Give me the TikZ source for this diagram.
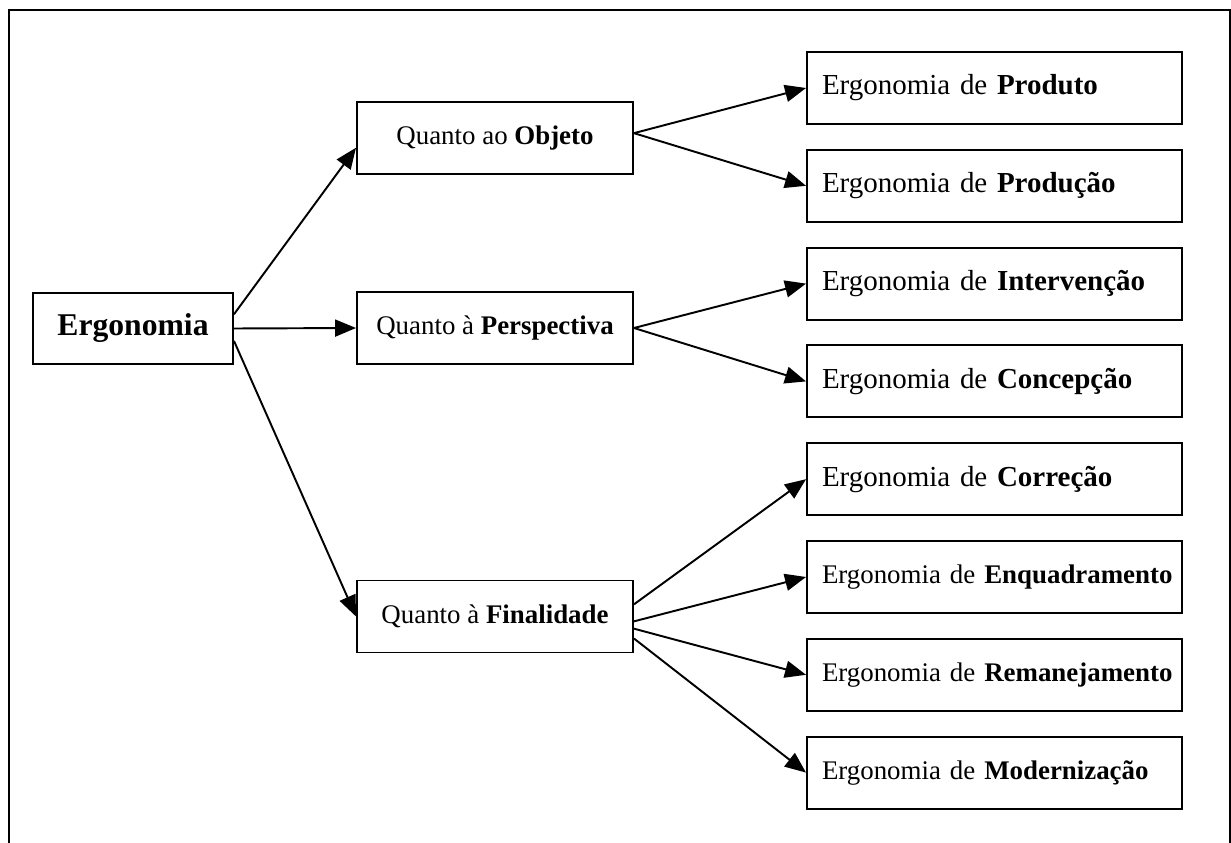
\documentclass[tikz,border=0pt]{standalone}
\usepackage{fontspec}
\setmainfont{Liberation Serif}
\usepackage{tikz}
\usetikzlibrary{arrows.meta, positioning}

\begin{document}
\begin{tikzpicture}[
  rootbox/.style={rectangle, draw, line width=1.1pt, minimum width=4.0cm,
                  minimum height=1.42cm, inner sep=0pt,
                  font=\fontsize{18}{21}\selectfont\bfseries},
  groupbox/.style={rectangle, draw, line width=1.1pt, minimum width=5.52cm,
                   minimum height=1.44cm, inner sep=0pt, align=center,
                   font=\fontsize{15.3}{18}\selectfont},
  leafbox/.style={rectangle, draw, line width=1.1pt, text width=6.9cm,
                  inner xsep=0.3cm, minimum height=1.44cm, align=left,
                  font=\fontsize{16.5}{19}\selectfont},
  tight/.style={font=\fontsize{15.3}{18}\selectfont},
  arr/.style={line width=1.1pt, -{Triangle[length=0.42cm, width=0.34cm]}},
]
\useasboundingbox (0,0) rectangle (24.62,-16.86);
\draw[line width=1.1pt] (0.18,-16.86) -- (0.18,-0.2) -- (24.6,-0.2) -- (24.6,-16.86);
\def\rowgap{1.956}

\node[rootbox] (erg) at (2.66,-6.57) {Ergonomia};

\node[groupbox] (obj) at (9.9,-2.76) {Quanto ao \textbf{Objeto}};
\node[groupbox] (per) at (9.9,-6.56) {Quanto à \textbf{Perspectiva}};
\node[groupbox] (fin) at (9.9,-12.33) {Quanto à \textbf{Finalidade}};

\foreach \n/\w/\st [count=\i from 0] in {prod/Produto/leafbox,
    prdc/Produção/leafbox, intv/Intervenção/leafbox, conc/Concepção/leafbox,
    corr/Correção/leafbox, enqd/Enquadramento/tight, reman/Remanejamento/tight,
    modn/Modernização/tight} {
  \node[leafbox, \st] (\n) at (19.89,{-1.76-\i*\rowgap})
    {\mbox{Ergonomia de \textbf{\w}}};
}

\draw[arr] (erg.8) -- (obj.184);
\draw[arr] (erg.east) -- (per.west);
\draw[arr] (erg.-7) -- (fin.west);

\foreach \s/\t in {obj.2/prod, obj.2/prdc, per.east/intv, per.east/conc,
    fin.5/corr, fin.-2/enqd, fin.-5/reman, fin.-9/modn} {
  \draw[arr] (\s) -- (\t.west);
}
\end{tikzpicture}
\end{document}
